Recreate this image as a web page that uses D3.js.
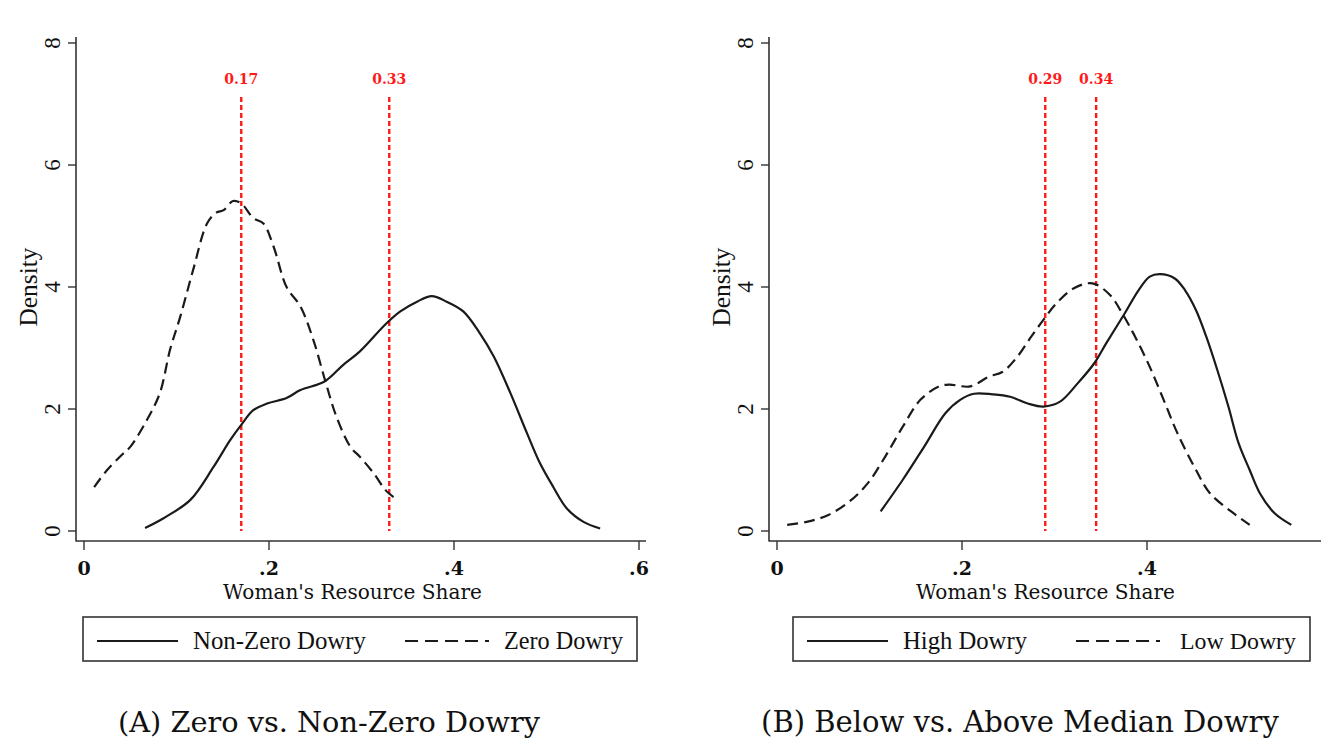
<!DOCTYPE html>
<html>
<head>
<meta charset="utf-8">
<script src="https://cdn.jsdelivr.net/npm/d3@7"></script>
<style>
  body { margin: 0; background: #fff; }
  svg { display: block; }
  text { font-family: "Liberation Serif", "DejaVu Serif", serif; fill: #111; }
</style>
</head>
<body>
<svg id="chart" width="1321" height="746"></svg>
<script>
// tick values
var xTicks = [0, 0.2, 0.4, 0.6];
var xTickLabels = ["0", ".2", ".4", ".6"];
var yTicks = [0, 2, 4, 6, 8];

// panel A: kernel densities, [share, density]
var nonZeroDowry = [
  [0.066, 0.05], [0.086, 0.21], [0.115, 0.51], [0.140, 1.05], [0.158, 1.49],
  [0.170, 1.74], [0.183, 1.98], [0.198, 2.09], [0.219, 2.18], [0.234, 2.31],
  [0.260, 2.45], [0.280, 2.72], [0.298, 2.94], [0.326, 3.39], [0.342, 3.60],
  [0.360, 3.76], [0.376, 3.85], [0.392, 3.76], [0.410, 3.60], [0.428, 3.24],
  [0.443, 2.86], [0.461, 2.26], [0.479, 1.60], [0.493, 1.11], [0.507, 0.73],
  [0.522, 0.37], [0.540, 0.15], [0.558, 0.04]
];
var zeroDowry = [
  [0.011, 0.72], [0.025, 1.00], [0.041, 1.25], [0.050, 1.38], [0.068, 1.82],
  [0.082, 2.26], [0.093, 2.97], [0.104, 3.51], [0.118, 4.28], [0.133, 5.04],
  [0.143, 5.22], [0.151, 5.26], [0.161, 5.41], [0.170, 5.37], [0.183, 5.13],
  [0.194, 5.04], [0.205, 4.66], [0.219, 4.00], [0.234, 3.68], [0.248, 3.13],
  [0.261, 2.45], [0.273, 1.87], [0.288, 1.38], [0.298, 1.22], [0.313, 0.95],
  [0.326, 0.67], [0.337, 0.53]
];
var meansA = [0.17, 0.33];
var meanLabelsA = ["0.17", "0.33"];

// panel B
var highDowry = [
  [0.112, 0.32], [0.136, 0.84], [0.159, 1.38], [0.182, 1.93], [0.198, 2.15],
  [0.213, 2.25], [0.233, 2.24], [0.252, 2.20], [0.271, 2.09], [0.288, 2.04],
  [0.306, 2.12], [0.325, 2.42], [0.343, 2.75], [0.356, 3.08], [0.376, 3.57],
  [0.391, 3.95], [0.403, 4.17], [0.414, 4.21], [0.430, 4.14], [0.441, 3.95],
  [0.453, 3.62], [0.464, 3.19], [0.476, 2.64], [0.488, 2.04], [0.499, 1.44],
  [0.511, 1.00], [0.522, 0.62], [0.538, 0.29], [0.556, 0.10]
];
var lowDowry = [
  [0.011, 0.10], [0.032, 0.15], [0.055, 0.26], [0.078, 0.48], [0.098, 0.78],
  [0.117, 1.22], [0.136, 1.71], [0.155, 2.15], [0.175, 2.37], [0.186, 2.40],
  [0.209, 2.37], [0.229, 2.53], [0.244, 2.61], [0.260, 2.86], [0.275, 3.19],
  [0.288, 3.46], [0.302, 3.73], [0.321, 3.98], [0.341, 4.06], [0.360, 3.87],
  [0.372, 3.60], [0.387, 3.19], [0.403, 2.69], [0.418, 2.15], [0.433, 1.60],
  [0.453, 1.00], [0.468, 0.62], [0.491, 0.32], [0.511, 0.10]
];
var meansB = [0.29, 0.345];
var meanLabelsB = ["0.29", "0.34"];

var svg = d3.select("#chart");

// shrink or grow a text's font size so it spans the given width
function fitWidth(sel, w) {
  var node = sel.node();
  var fs = parseFloat(sel.style("font-size"));
  var len = node.getComputedTextLength();
  if (len > 0) sel.style("font-size", (fs * w / len).toFixed(2) + "px");
  return sel;
}

function drawPanel(p) {
  var x = d3.scaleLinear().domain([0, 0.6]).range([p.left + 8, p.left + 8 + 555]);
  var y = d3.scaleLinear().domain([0, 8]).range([531, 43]);
  var g = svg.append("g");

  // axis lines
  g.append("line").attr("x1", p.left).attr("x2", p.left).attr("y1", 37).attr("y2", 541.5)
    .attr("stroke", "#333").attr("stroke-width", 1.6);
  g.append("line").attr("x1", p.left).attr("x2", Math.min(p.left + 570, 1321)).attr("y1", 541).attr("y2", 541)
    .attr("stroke", "#333").attr("stroke-width", 1.6);

  // y ticks
  yTicks.forEach(function (t) {
    g.append("line").attr("x1", p.left - 8).attr("x2", p.left).attr("y1", y(t)).attr("y2", y(t))
      .attr("stroke", "#333").attr("stroke-width", 1.4);
    g.append("text")
      .attr("transform", "translate(" + (p.left - 24) + "," + y(t) + ") rotate(-90)")
      .attr("text-anchor", "middle").attr("dy", "0.35em")
      .style("font-size", "23px").text(t);
  });
  fitWidth(g.append("text")
    .attr("transform", "translate(" + (p.left - 48) + ",287) rotate(-90)")
    .attr("text-anchor", "middle").attr("dy", "0.35em")
    .style("font-size", "21px").text("Density"), 79);

  // x ticks
  xTicks.forEach(function (t, i) {
    g.append("line").attr("x1", x(t)).attr("x2", x(t)).attr("y1", 541).attr("y2", 550)
      .attr("stroke", "#333").attr("stroke-width", 1.4);
    g.append("text").attr("x", x(t)).attr("y", 575).attr("text-anchor", "middle")
      .style("font-family", "DejaVu Serif")
      .style("font-size", "19px").style("font-weight", "bold").text(xTickLabels[i]);
  });
  fitWidth(g.append("text").attr("x", x(0.3) - 9).attr("y", 599).attr("text-anchor", "middle")
    .style("font-family", "DejaVu Serif").style("font-size", "20px").text("Woman's Resource Share"), 259);

  // mean lines
  p.means.forEach(function (m, i) {
    g.append("line").attr("x1", x(m)).attr("x2", x(m)).attr("y1", 97).attr("y2", y(0))
      .attr("stroke", "#ff1a1a").attr("stroke-width", 2.4).attr("stroke-dasharray", "5,3");
    g.append("text").attr("x", x(m)).attr("y", 84).attr("text-anchor", "middle")
      .style("font-family", "DejaVu Serif")
      .style("font-size", "14px").style("font-weight", "bold").style("fill", "#ff1a1a")
      .text(p.meanLabels[i]);
  });

  var line = d3.line()
    .x(function (d) { return x(d[0]); })
    .y(function (d) { return y(d[1]); })
    .curve(d3.curveCatmullRom.alpha(0.5));

  g.append("path").datum(p.solid).attr("d", line)
    .attr("fill", "none").attr("stroke", "#1a1a1a").attr("stroke-width", 2.2);
  g.append("path").datum(p.dashed).attr("d", line)
    .attr("fill", "none").attr("stroke", "#1a1a1a").attr("stroke-width", 2.2)
    .attr("stroke-dasharray", "11,6");

  // legend
  var lg = g.append("g");
  lg.append("rect").attr("x", p.legX).attr("y", 617).attr("width", p.legW).attr("height", 44)
    .attr("fill", "#fff").attr("stroke", "#333").attr("stroke-width", 1.6);
  lg.append("line").attr("x1", p.legX + 14).attr("x2", p.legX + 95).attr("y1", 641).attr("y2", 641)
    .attr("stroke", "#1a1a1a").attr("stroke-width", 2.2);
  fitWidth(lg.append("text").attr("x", p.legX + 110).attr("y", 649).style("font-size", "23px")
    .text(p.names[0]), p.nameW[0]);
  lg.append("line").attr("x1", p.legX + p.dashOff).attr("x2", p.legX + p.dashOff + 84).attr("y1", 641).attr("y2", 641)
    .attr("stroke", "#1a1a1a").attr("stroke-width", 2.2).attr("stroke-dasharray", "13,7");
  fitWidth(lg.append("text").attr("x", p.legX + p.legW - 14).attr("y", 649).attr("text-anchor", "end")
    .style("font-size", "23px").text(p.names[1]), p.nameW[1]);

  // caption
  fitWidth(g.append("text").attr("x", p.capX).attr("y", 732).attr("text-anchor", "middle")
    .style("font-family", "DejaVu Serif").style("font-size", "26px").text(p.caption), p.capW);
}

drawPanel({
  left: 76, solid: nonZeroDowry, dashed: zeroDowry, means: meansA, meanLabels: meanLabelsA,
  names: ["Non-Zero Dowry", "Zero Dowry"], nameW: [173, 119], legX: 83, legW: 554, dashOff: 322,
  caption: "(A) Zero vs. Non-Zero Dowry", capX: 329, capW: 422
});
drawPanel({
  left: 769, solid: highDowry, dashed: lowDowry, means: meansB, meanLabels: meanLabelsB,
  names: ["High Dowry", "Low Dowry"], nameW: [124, 116], legX: 793, legW: 517, dashOff: 283,
  caption: "(B) Below vs. Above Median Dowry", capX: 1020, capW: 518
});
</script>
</body>
</html>
